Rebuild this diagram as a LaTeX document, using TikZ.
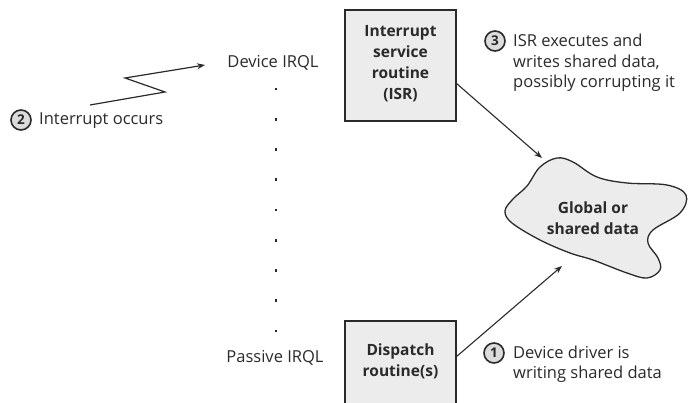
\documentclass[tikz,border=0pt]{standalone}
\usepackage{fontspec}
\setmainfont{Open Sans}
\usetikzlibrary{arrows.meta}
\definecolor{ink}{HTML}{2A2A2A}
\definecolor{boxfill}{HTML}{ECECEC}
\tikzset{
  every node/.style={font=\fontsize{16.5}{20.5}\selectfont, text=ink},
  procbox/.style={draw=ink, line width=1.4pt, fill=boxfill, minimum width=111pt},
  boxtext/.style={align=center, inner sep=0pt, font=\bfseries\fontsize{15.5}{21}\selectfont},
  lbl/.style={align=left, anchor=west, inner sep=0pt},
  num/.style={circle, draw=ink, line width=1.6pt, fill=boxfill!85!gray, inner sep=0pt, minimum size=20pt, font=\bfseries\fontsize{13.5}{13.5}\selectfont},
  conn/.style={draw=ink, line width=1.1pt, -{Stealth[length=8pt,width=6pt]}},
  irqdot/.style={fill=ink, minimum size=2.6pt, inner sep=0pt, rectangle}
}
\begin{document}
\begin{tikzpicture}[x=1pt,y=-1pt]
\useasboundingbox (0,0) rectangle (689,403);
\clip (0,0) rectangle (689,403);
% boxes
\node[procbox, minimum height=111pt] (isr) at (400.5,65.5) {};
\node[boxtext] (isrtext) at (400.5,64) {Interrupt\\service\\routine\\(ISR)};
\node[procbox, minimum height=95pt] (disp) at (400.5,368.5) {};
\node[boxtext] (disptext) at (400.5,361) {Dispatch\\routine(s)};
% cloud
\draw[ink, line width=1.3pt, fill=boxfill] plot[smooth cycle, tension=0.6] coordinates {
 (540,167) (557,158) (573,162) (597,177) (627,183) (667,185) (686,195)
 (680,213) (653,230) (648,243) (658,258) (660,270) (647,278) (627,273)
 (593,260) (570,253) (540,240) (512,223) (505,211) (513,199) (527,186)};
\node[boxtext] (cloud) at (593,218) {Global or\\shared data};
\coordinate (cloudtop) at (542,158);
\coordinate (cloudbot) at (562,266);
% IRQL labels and dots
\node (dev) at (273,63) {Device IRQL};
\node (pas) at (275,358) {Passive IRQL};
\foreach \i in {0,...,8} {
  \node[irqdot] (d\i) at (276,{89+30.25*\i}) {};
}
% zigzag interrupt
\coordinate (z1) at (90,105);
\coordinate (z2) at (165,92);
\coordinate (z3) at (125,78);
\coordinate (z4) at (205,65);
\draw[conn, line width=1.2pt] (z1) -- (z2) -- (z3) -- (z4);
% connectors
\coordinate (isrout) at (456,83);
\coordinate (dispout) at (456,357);
\draw[conn] (isrout) -- (cloudtop);
\draw[conn] (dispout) -- (cloudbot);
% numbered labels
\node[num] (n2) at (21,120) {2};
\node[lbl] (t2) at (39,121) {Interrupt occurs};
\node[num] (n3) at (495,41) {3};
\node[lbl] (t3) at (513,63) {ISR executes and\\writes shared data,\\possibly corrupting it};
\node[num] (n1) at (494,353) {1};
\node[lbl] (t1) at (513,364) {Device driver is\\writing shared data};
\end{tikzpicture}
\end{document}
